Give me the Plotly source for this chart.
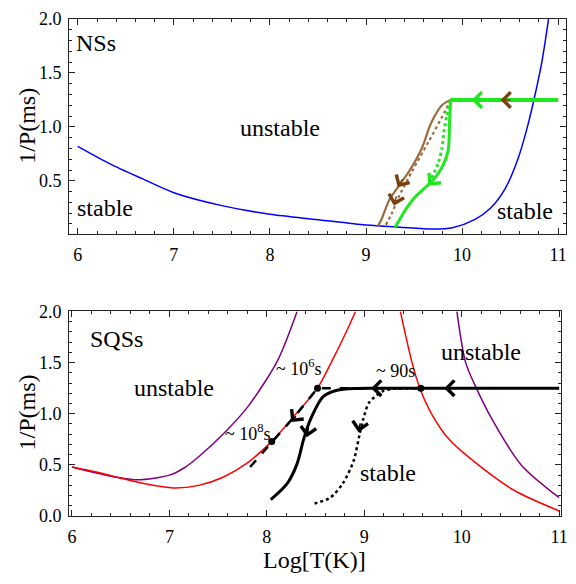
import plotly.graph_objects as go

# ---------------- data: top panel (NSs) ----------------
ns_blue_x = [6.0, 6.33, 6.67, 7.0, 7.5, 8.0, 8.5, 9.0, 9.35, 9.7, 9.9, 10.13, 10.3, 10.45, 10.58, 10.68, 10.76, 10.83, 10.9]
ns_blue_y = [0.82, 0.66, 0.52, 0.39, 0.27, 0.19, 0.14, 0.09, 0.07, 0.053, 0.065, 0.14, 0.25, 0.43, 0.70, 1.0, 1.3, 1.6, 2.0]

ns_hline_x = [11.0, 9.88]
ns_hline_y = [1.25, 1.25]

green_solid_x = [9.88, 9.87, 9.855, 9.8, 9.72, 9.62, 9.51, 9.41, 9.33, 9.30]
green_solid_y = [1.25, 1.05, 0.78, 0.64, 0.53, 0.44, 0.35, 0.23, 0.11, 0.07]
green_dot_x = [9.88, 9.84, 9.81, 9.79, 9.75, 9.68]
green_dot_y = [1.25, 1.10, 0.95, 0.80, 0.66, 0.52]

brown_solid_x = [9.88, 9.79, 9.68, 9.58, 9.45, 9.33, 9.24, 9.16, 9.12]
brown_solid_y = [1.25, 1.20, 1.04, 0.80, 0.59, 0.44, 0.32, 0.14, 0.077]
brown_dot_x = [9.88, 9.82, 9.65, 9.48, 9.34, 9.27, 9.20]
brown_dot_y = [1.25, 1.14, 0.86, 0.59, 0.35, 0.20, 0.08]

# arrows (tip x, tip y, tail x, tail y, colour key)
ns_arrows = [
    (10.10, 1.25, 10.22, 1.25, "green"),
    (10.40, 1.25, 10.52, 1.25, "brownhead"),
    (9.65, 0.455, 9.72, 0.53, "green"),
    (9.33, 0.44, 9.39, 0.53, "brownhead"),
    (9.29, 0.27, 9.32, 0.37, "brownhead"),
]
ns_labels = [("NSs", 6.19, 1.78), ("unstable", 8.1, 0.99), ("stable", 6.28, 0.25), ("stable", 10.66, 0.22)]

# ---------------- data: bottom panel (SQSs) ----------------
red1_x = [6.0, 6.25, 6.5, 6.75, 7.04, 7.3, 7.55, 7.8, 8.05, 8.3, 8.52, 8.66, 8.79, 8.91]
red1_y = [0.48, 0.43, 0.37, 0.315, 0.275, 0.30, 0.38, 0.52, 0.73, 1.0, 1.25, 1.5, 1.75, 2.0]
red2_x = [9.37, 9.49, 9.57, 9.69, 9.87, 10.17, 10.54, 11.0]
red2_y = [2.0, 1.5, 1.25, 1.0, 0.75, 0.5, 0.25, 0.05]

purple1_x = [6.0, 6.3, 6.67, 7.0, 7.15, 7.3, 7.57, 7.81, 8.11, 8.31]
purple1_y = [0.48, 0.41, 0.355, 0.40, 0.47, 0.58, 0.82, 1.075, 1.52, 2.0]
purple2_x = [9.95, 10.04, 10.15, 10.28, 10.61, 11.0]
purple2_y = [2.0, 1.5, 1.25, 1.0, 0.5, 0.18]

black_solid_x = [11.0, 9.1, 8.92, 8.72, 8.58, 8.45, 8.38, 8.31, 8.21, 8.04]
black_solid_y = [1.25, 1.25, 1.248, 1.23, 1.17, 0.95, 0.76, 0.51, 0.32, 0.16]
black_dot_x = [9.45, 9.3, 9.19, 9.05, 8.99, 8.95, 8.89, 8.78, 8.65, 8.46]
black_dot_y = [1.25, 1.245, 1.22, 1.11, 0.95, 0.79, 0.54, 0.32, 0.18, 0.116]
black_dash_x = [9.58, 8.52, 8.3, 8.05, 7.8]
black_dash_y = [1.25, 1.25, 0.99, 0.72, 0.45]

dots_x = [8.52, 8.05, 9.58]
dots_y = [1.25, 0.73, 1.25]

sq_arrows = [
    (9.82, 1.25, 9.95, 1.25),
    (9.07, 1.25, 9.20, 1.25),
    (8.25, 0.92, 8.31, 0.99),
    (8.41, 0.77, 8.43, 0.88),
    (8.94, 0.82, 8.96, 0.92),
]
sq_labels = [("SQSs", 6.46, 1.73, 24), ("unstable", 7.05, 1.25, 24), ("unstable", 10.2, 1.6, 24),
             ("stable", 9.24, 0.42, 24), ("~ 10<sup>6</sup>s", 8.33, 1.45, 18),
             ("~ 90s", 9.32, 1.415, 18), ("~ 10<sup>8</sup>s", 7.81, 0.82, 18)]

# ---------------- figure ----------------
# page body has an 8px default margin: the figure is sized so that it fills the 576x584 window
OFF = 8
W, H = 576 - OFF, 584 - OFF
def PX(px):
    return (px - OFF) / W
def PY(py):
    return 1 - (py - OFF) / H

FONT = "Liberation Serif"
GREEN = "#1ee81e"
BROWN = "#9c6b3c"
BROWNHEAD = "#7a4010"

fig = go.Figure()

def line(x, y, color, width, dash="solid", shape="spline", ax="x", ay="y"):
    fig.add_trace(go.Scatter(x=x, y=y, mode="lines", xaxis=ax, yaxis=ay,
                             line=dict(color=color, width=width, dash=dash, shape=shape, smoothing=0.8),
                             hoverinfo="skip", showlegend=False))

# top panel
line(ns_blue_x, ns_blue_y, "#0000ff", 1.5)
line(ns_hline_x, ns_hline_y, BROWN, 3, shape="linear")
line(brown_solid_x, brown_solid_y, BROWN, 2.2)
line(brown_dot_x, brown_dot_y, BROWN, 2.2, dash="dot")
line(green_dot_x, green_dot_y, GREEN, 3, dash="dot")
line(green_solid_x, green_solid_y, GREEN, 3)
line(ns_hline_x, ns_hline_y, GREEN, 4, shape="linear")

# bottom panel
line(purple1_x, purple1_y, "#800080", 1.5, ax="x2", ay="y2")
line(purple2_x, purple2_y, "#800080", 1.5, ax="x2", ay="y2")
line(red1_x, red1_y, "#ff0000", 1.5, ax="x2", ay="y2")
line(red2_x, red2_y, "#ff0000", 1.5, ax="x2", ay="y2")
line(black_dash_x, black_dash_y, "black", 2.5, dash="dash", shape="linear", ax="x2", ay="y2")
line(black_dot_x, black_dot_y, "black", 2.5, dash="dot", ax="x2", ay="y2")
line(black_solid_x, black_solid_y, "black", 3, ax="x2", ay="y2")
fig.add_trace(go.Scatter(x=dots_x, y=dots_y, mode="markers", xaxis="x2", yaxis="y2",
                         marker=dict(color="black", size=7), hoverinfo="skip", showlegend=False))

colors = {"green": GREEN, "brownhead": BROWNHEAD}
ann = []
for tx, ty, sx, sy, c in ns_arrows:
    ann.append(dict(x=tx, y=ty, ax=sx, ay=sy, xref="x", yref="y", axref="x", ayref="y",
                    text="", showarrow=True, arrowhead=4, arrowsize=2.0, arrowwidth=1.5,
                    arrowcolor=colors[c]))
for tx, ty, sx, sy in sq_arrows:
    ann.append(dict(x=tx, y=ty, ax=sx, ay=sy, xref="x2", yref="y2", axref="x2", ayref="y2",
                    text="", showarrow=True, arrowhead=4, arrowsize=2.0, arrowwidth=1.5,
                    arrowcolor="black"))
for t, x, y in ns_labels:
    ann.append(dict(x=x, y=y, xref="x", yref="y", text=t, showarrow=False,
                    xanchor="center", yanchor="middle",
                    font=dict(family=FONT, size=24, color="black")))
for t, x, y, s in sq_labels:
    ann.append(dict(x=x, y=y, xref="x2", yref="y2", text=t, showarrow=False,
                    xanchor="center", yanchor="middle",
                    font=dict(family=FONT, size=s, color="black")))
# axis titles
for t, px, py, ang in [("1/P(ms)", 25, 120, -90), ("1/P(ms)", 25, 417, -90), ("Log[T(K)]", 317, 570, 0)]:
    ann.append(dict(x=PX(px), y=PY(py), xref="paper", yref="paper", text=t, textangle=ang,
                    xanchor="center", yanchor="middle", showarrow=False,
                    font=dict(family=FONT, size=24, color="black")))

xticks = [6, 7, 8, 9, 10, 11]
yticks = [0.0, 0.5, 1.0, 1.5, 2.0]
ytext = ["0.0", "0.5", "1.0", "1.5", "2.0"]

def xax(domain, rng, anchor):
    return dict(domain=domain, range=rng, anchor=anchor, tickvals=xticks, ticks="inside", ticklen=6,
                tickwidth=1, tickcolor="#222", showline=True, linecolor="#222", linewidth=1,
                mirror="ticks", showgrid=False, zeroline=False, ticklabeloverflow="allow",
                minor=dict(ticks="inside", ticklen=3, dtick=0.2, tick0=6, tickcolor="#222", showgrid=False),
                tickfont=dict(family=FONT, size=18, color="black"), ticklabelstandoff=4)

def yax(domain, rng, anchor):
    return dict(domain=domain, range=rng, anchor=anchor, tickvals=yticks, ticktext=ytext, ticks="inside",
                ticklen=6, tickwidth=1, tickcolor="#222", showline=True, linecolor="#222", linewidth=1,
                mirror="ticks", showgrid=False, zeroline=False, ticklabeloverflow="allow",
                minor=dict(ticks="inside", ticklen=3, dtick=0.1, tick0=0, tickcolor="#222", showgrid=False),
                tickfont=dict(family=FONT, size=18, color="black"), ticklabelstandoff=3)

fig.update_layout(
    width=W, height=H, margin=dict(l=0, r=0, t=0, b=0),
    paper_bgcolor="white", plot_bgcolor="white",
    xaxis=xax([PX(68), PX(573)], [5.909, 11.082], "y"),
    yaxis=yax([PY(232), PY(9)], [0.005, 2.0], "x"),
    xaxis2=xax([PX(68), PX(568)], [5.97, 11.02], "y2"),
    yaxis2=yax([PY(524), PY(312)], [0.0, 2.0], "x2"),
    annotations=ann,
)

fig.write_html("out.html")
